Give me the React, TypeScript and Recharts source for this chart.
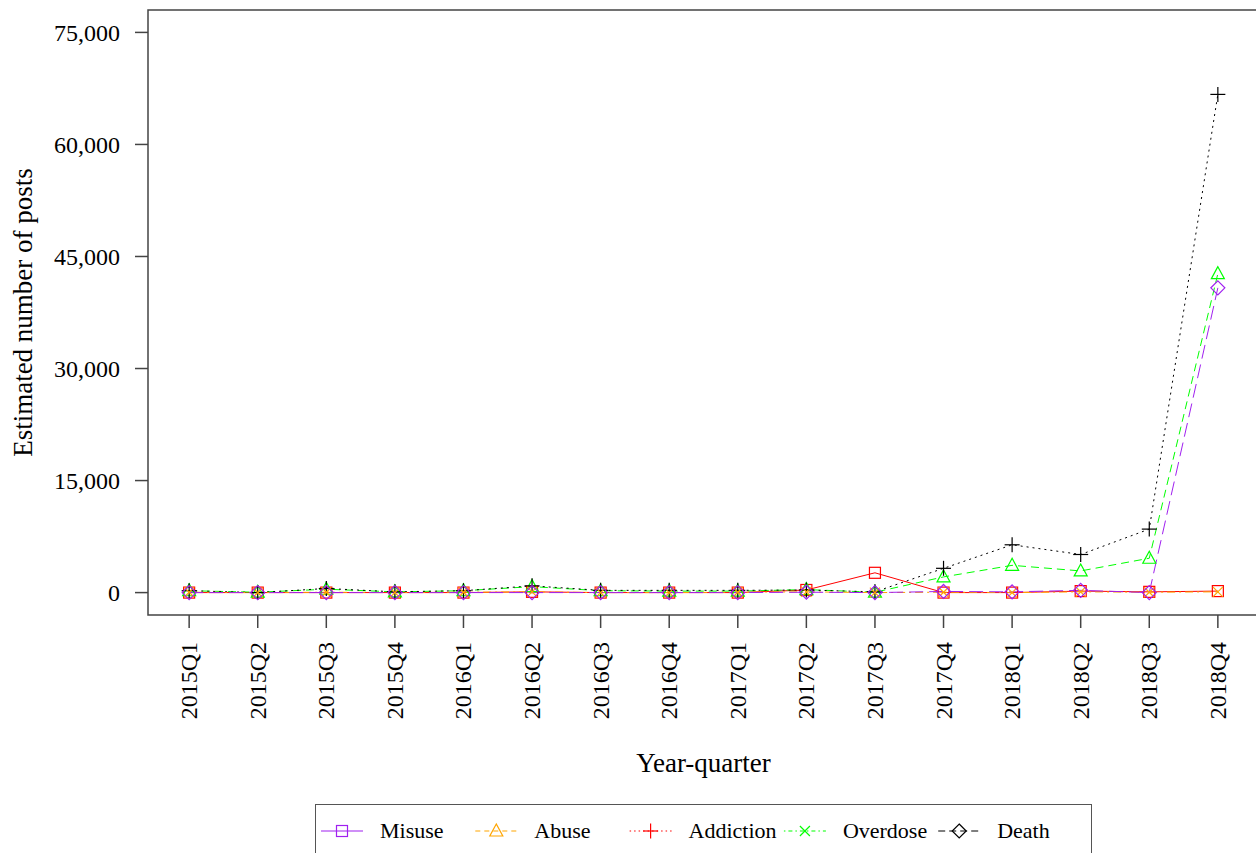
import { LineChart, Line, XAxis, YAxis, Legend, ReferenceArea, Label } from "recharts";

const QUARTERS = [
  "2015Q1", "2015Q2", "2015Q3", "2015Q4",
  "2016Q1", "2016Q2", "2016Q3", "2016Q4",
  "2017Q1", "2017Q2", "2017Q3", "2017Q4",
  "2018Q1", "2018Q2", "2018Q3", "2018Q4",
];

const MISUSE = [0, 0, 0, 0, 0, 100, 0, 0, 0, 350, 2650, 0, 0, 200, 100, 200];
const ABUSE = [250, 50, 450, 100, 250, 800, 250, 200, 200, 400, 50, 2100, 3650, 2900, 4600, 42700];
const ADDICTION = [250, 0, 550, 100, 250, 900, 300, 300, 300, 350, 100, 3250, 6400, 5100, 8500, 66700];
const OVERDOSE = [50, 0, 50, 0, 50, 100, 0, 0, 50, 100, 0, 50, 0, 100, 50, 100];
const DEATH = [0, 0, 0, 0, 0, 0, 0, 0, 0, 50, 0, 150, 100, 300, 0, 40800];

const Y_TICKS = [0, 15000, 30000, 45000, 60000, 75000];

const FONT = "'Liberation Serif', 'Times New Roman', serif";

type Shape = "square" | "triangle" | "plus" | "cross" | "diamond";

// plot colour and legend colour are kept separately
const SERIES: {
  key: string;
  name: string;
  values: number[];
  color: string;
  legendColor: string;
  dash?: string;
  legendDash?: string;
  shape: Shape;
}[] = [
  { key: "misuse", name: "Misuse", values: MISUSE, color: "#FF0000", legendColor: "#A020F0", shape: "square" },
  { key: "abuse", name: "Abuse", values: ABUSE, color: "#00FF00", legendColor: "#FFA500", dash: "8 5", legendDash: "5 4", shape: "triangle" },
  { key: "addiction", name: "Addiction", values: ADDICTION, color: "#000000", legendColor: "#FF0000", dash: "2 4", legendDash: "1.5 3", shape: "plus" },
  { key: "overdose", name: "Overdose", values: OVERDOSE, color: "#FFA500", legendColor: "#00FF00", dash: "2 4 8 4", legendDash: "1.5 3 4 3", shape: "cross" },
  { key: "death", name: "Death", values: DEATH, color: "#A020F0", legendColor: "#000000", dash: "14 6", legendDash: "7 4", shape: "diamond" },
];

const rows = QUARTERS.map((q, i) => {
  const row: Record<string, number | string> = { idx: i + 1, quarter: q };
  SERIES.forEach((s) => {
    row[s.key] = s.values[i];
  });
  return row;
});

function Marker({ shape, cx, cy, color }: { shape: Shape; cx: number; cy: number; color: string }) {
  const common = { stroke: color, strokeWidth: 1.2, fill: "none" };
  switch (shape) {
    case "square":
      return <rect x={cx - 5.5} y={cy - 5.5} width={11} height={11} {...common} />;
    case "triangle":
      return <polygon points={`${cx},${cy - 7} ${cx - 6.5},${cy + 5} ${cx + 6.5},${cy + 5}`} {...common} />;
    case "plus":
      return (
        <g {...common}>
          <line x1={cx - 7.5} y1={cy} x2={cx + 7.5} y2={cy} />
          <line x1={cx} y1={cy - 7.5} x2={cx} y2={cy + 7.5} />
        </g>
      );
    case "cross":
      return (
        <g {...common}>
          <line x1={cx - 5} y1={cy - 5} x2={cx + 5} y2={cy + 5} />
          <line x1={cx - 5} y1={cy + 5} x2={cx + 5} y2={cy - 5} />
        </g>
      );
    case "diamond":
      return <polygon points={`${cx},${cy - 7} ${cx + 7},${cy} ${cx},${cy + 7} ${cx - 7},${cy}`} {...common} />;
  }
}

function QuarterTick({ x, y, payload }: any) {
  return (
    <text
      x={x}
      y={y}
      transform={`rotate(-90 ${x} ${y})`}
      textAnchor="end"
      dominantBaseline="central"
      fontFamily={FONT}
      fontSize={24}
      fill="#000"
    >
      {QUARTERS[payload.value - 1]}
    </text>
  );
}

function BoxLegend() {
  const step = 154.3;
  return (
    <div
      style={{
        width: 777,
        height: 70,
        border: "1.5px solid #555",
        boxSizing: "border-box",
        background: "#fff",
      }}
    >
      <svg width={777} height={70} style={{ display: "block" }}>
        {SERIES.map((s, i) => {
          const cx = 26 + i * step;
          const cy = 26;
          return (
            <g key={s.key}>
              <line
                x1={cx - 21}
                y1={cy}
                x2={cx + 21}
                y2={cy}
                stroke={s.legendColor}
                strokeWidth={1.2}
                strokeDasharray={s.legendDash}
              />
              <Marker shape={s.shape} cx={cx} cy={cy} color={s.legendColor} />
              <text x={cx + 38} y={cy + 7} fontFamily={FONT} fontSize={22} fill="#000">
                {s.name}
              </text>
            </g>
          );
        })}
      </svg>
    </div>
  );
}

export default function App() {
  return (
    <div
      style={{
        position: "absolute",
        left: 0,
        top: 0,
        width: 1256,
        height: 853,
        overflow: "hidden",
        background: "#fff",
      }}
    >
      <LineChart
        width={1300}
        height={853}
        data={rows}
        margin={{ top: 10, right: 41, left: 0, bottom: 0 }}
      >
        <XAxis
          dataKey="idx"
          type="number"
          domain={[0.4, 16.6]}
          ticks={QUARTERS.map((_, i) => i + 1)}
          allowDataOverflow
          interval={0}
          axisLine={false}
          tickLine={{ stroke: "#444", strokeWidth: 1.5 }}
          tickSize={13}
          tickMargin={14}
          height={238}
          tick={<QuarterTick />}
        >
          <Label
            content={({ viewBox }: any) => (
              <text
                x={viewBox.x + viewBox.width / 2}
                y={772}
                textAnchor="middle"
                fontFamily={FONT}
                fontSize={27}
                fill="#000"
              >
                Year-quarter
              </text>
            )}
          />
        </XAxis>
        <YAxis
          type="number"
          domain={[-3000, 78000]}
          ticks={Y_TICKS}
          allowDataOverflow
          width={148}
          axisLine={false}
          tickLine={{ stroke: "#444", strokeWidth: 1.5 }}
          tickSize={13}
          tickMargin={15}
          tickFormatter={(v: number) => v.toLocaleString("en-US")}
          tick={{ fontFamily: FONT, fontSize: 24, fill: "#000" }}
        >
          <Label
            content={({ viewBox }: any) => {
              const x = 32;
              const y = viewBox.y + viewBox.height / 2;
              return (
                <text
                  x={x}
                  y={y}
                  transform={`rotate(-90 ${x} ${y})`}
                  textAnchor="middle"
                  fontFamily={FONT}
                  fontSize={27}
                  fill="#000"
                >
                  Estimated number of posts
                </text>
              );
            }}
          />
        </YAxis>
        <ReferenceArea
          x1={0.4}
          x2={16.6}
          y1={-3000}
          y2={78000}
          fill="none"
          fillOpacity={0}
          stroke="#444"
          strokeWidth={1.5}
          ifOverflow="visible"
        />
        {SERIES.map((s) => (
          <Line
            key={s.key}
            dataKey={s.key}
            name={s.name}
            type="linear"
            stroke={s.color}
            strokeWidth={1}
            strokeDasharray={s.dash}
            isAnimationActive={false}
            dot={(p: any) => (
              <Marker key={`${s.key}-${p.index}`} shape={s.shape} cx={p.cx} cy={p.cy} color={s.color} />
            )}
            activeDot={false}
          />
        ))}
        <Legend
          layout="horizontal"
          verticalAlign="middle"
          wrapperStyle={{ left: 315, top: 804, width: 777, height: 70 }}
          content={() => <BoxLegend />}
        />
      </LineChart>
    </div>
  );
}
